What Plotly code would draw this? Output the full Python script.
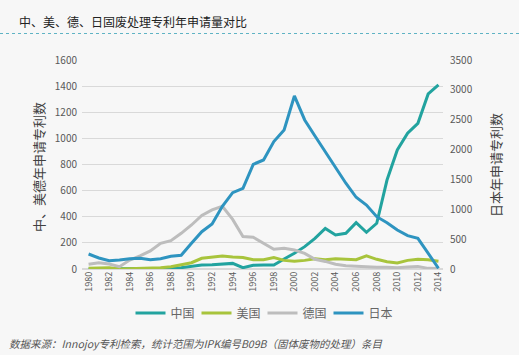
import plotly.graph_objects as go

years = list(range(1980, 2015))
china = [0, 0, 0, 0, 0, 0, 0, 2, 5, 10, 18, 31, 33, 38, 43, 10, 28, 31, 31, 77,
         120, 171, 235, 311, 260, 273, 355, 281, 350, 681, 911, 1039, 1115, 1340, 1409]
usa = [5, 5, 10, 0, 3, 5, 5, 10, 18, 31, 48, 82, 91, 100, 91, 88, 71, 71, 88, 66,
       59, 66, 79, 71, 79, 74, 71, 100, 74, 56, 46, 66, 74, 71, 59]
germany = [36, 48, 38, 18, 69, 100, 138, 197, 217, 273, 337, 410, 452, 480, 380, 248,
           243, 197, 151, 158, 145, 120, 74, 58, 36, 25, 20, 18, 13, 13, 10, 15, 20, 5, 3]
japan = [251, 184, 140, 150, 173, 179, 156, 173, 212, 229, 430, 625, 754, 1050, 1278, 1351,
         1753, 1826, 2133, 2328, 2898, 2496, 2228, 1960, 1687, 1436, 1201, 1072, 876, 776,
         653, 558, 514, 263, 12]
tick_years = list(range(1980, 2015, 2))
tick_text = [str(y) for y in tick_years]

C_CN = "#22a39f"
C_US = "#a8c43c"
C_DE = "#bdbdbd"
C_JP = "#2e94c0"
FONT = "Noto Sans CJK SC"

fig = go.Figure()
fig.add_trace(go.Scatter(x=years, y=china, name="中国", mode="lines",
                         line=dict(color=C_CN, width=3)))
fig.add_trace(go.Scatter(x=years, y=usa, name="美国", mode="lines",
                         line=dict(color=C_US, width=3)))
fig.add_trace(go.Scatter(x=years, y=germany, name="德国", mode="lines",
                         line=dict(color=C_DE, width=3)))
fig.add_trace(go.Scatter(x=years, y=japan, name="日本", mode="lines", yaxis="y2",
                         line=dict(color=C_JP, width=3)))

fig.update_layout(
    width=519, height=355,
    margin=dict(l=82, r=76, t=60, b=86, autoexpand=False),
    paper_bgcolor="#f7f7f7", plot_bgcolor="#f7f7f7",
    font=dict(family=FONT, color="#595959", size=10),
    showlegend=True,
    legend=dict(orientation="h", x=0.5, xanchor="center", y=-0.21, yanchor="middle",
                font=dict(size=12, color="#666666"), bgcolor="rgba(0,0,0,0)",
                itemwidth=30, tracegroupgap=0, entrywidth=21, entrywidthmode="pixels"),
    xaxis=dict(range=[1979.36, 2014.44], tickmode="array", tickvals=tick_years,
               ticktext=tick_text, tickangle=-90, showgrid=False, zeroline=False,
               showline=False, ticks="", tickfont=dict(size=9, color="#595959")),
    yaxis=dict(range=[0, 1600], tickvals=list(range(0, 1601, 200)), showgrid=True,
               gridcolor="#d9d9d9", gridwidth=1, zeroline=True, zerolinecolor="#d9d9d9",
               showline=False, ticks="", tickfont=dict(size=10, color="#595959"),
               ticklabelstandoff=4),
    yaxis2=dict(range=[0, 3500], tickvals=list(range(0, 3501, 500)), overlaying="y",
                side="right", showgrid=False, zeroline=False, showline=False, ticks="",
                tickfont=dict(size=10, color="#595959"), ticklabelstandoff=6),
    annotations=[
        dict(text="中、美、德、日固废处理专利年申请量对比", xref="paper", yref="paper",
             x=-0.18, y=(269 - 22) / 209, xanchor="left", yanchor="middle",
             showarrow=False, font=dict(size=12, color="#222222", family=FONT)),
        dict(text="中、美德年申请专利数", xref="paper", yref="paper",
             x=(38 - 82) / 361, y=(269 - 167) / 209, xanchor="center", yanchor="middle",
             textangle=-90, showarrow=False, font=dict(size=13, color="#404040", family=FONT)),
        dict(text="日本年申请专利数", xref="paper", yref="paper",
             x=(495 - 82) / 361, y=(269 - 165) / 209, xanchor="center", yanchor="middle",
             textangle=-90, showarrow=False, font=dict(size=13, color="#404040", family=FONT)),
        dict(text="<i>数据来源：Innojoy专利检索，统计范围为IPK编号B09B（固体废物的处理）条目</i>",
             xref="paper", yref="paper", x=(7 - 82) / 361, y=(269 - 343) / 209,
             xanchor="left", yanchor="middle", showarrow=False,
             font=dict(size=10.5, color="#555555", family=FONT)),
    ],
    shapes=[
        dict(type="line", xref="paper", yref="paper", x0=-82 / 361, x1=(519 - 82) / 361,
             y0=(269 - 33.5) / 209, y1=(269 - 33.5) / 209,
             line=dict(color="#5fb3c4", width=1, dash="dot")),
    ],
)

fig.write_html("out.html", config={"displayModeBar": False},
               post_script="document.body.style.margin='0';")
